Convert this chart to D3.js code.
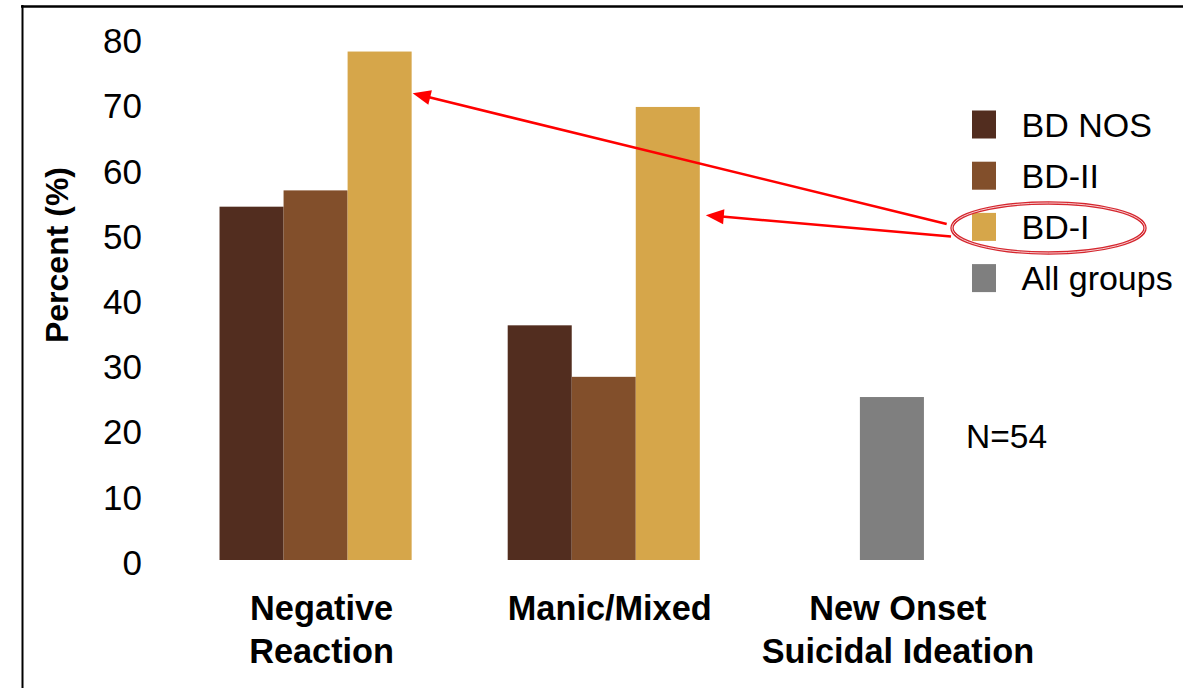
<!DOCTYPE html>
<html>
<head>
<meta charset="utf-8">
<script src="https://cdn.jsdelivr.net/npm/d3@7"></script>
<style>
  html, body { margin: 0; padding: 0; background: #fff; }
  svg { display: block; font-family: "Liberation Sans", Arial, sans-serif; }
</style>
</head>
<body>
<svg id="chart" width="1183" height="688"></svg>
<script>
// Episode outcome by bipolar subtype (percent of patients)
const categories = ["Negative Reaction", "Manic/Mixed", "New Onset Suicidal Ideation"];
const categoryLines = [["Negative", "Reaction"], ["Manic/Mixed"], ["New Onset", "Suicidal Ideation"]];
const series = ["BD NOS", "BD-II", "BD-I"];
const bdNos = [54.2, 36.0, null];
const bdII = [56.7, 28.1, null];
const bdI = [78.0, 69.5, null];
const allGroups = [null, null, 25.0];
const legendItems = ["BD NOS", "BD-II", "BD-I", "All groups"];
const yTicks = [0, 10, 20, 30, 40, 50, 60, 70, 80];
const sampleNote = "N=54";

const colors = { "BD NOS": "#522d1f", "BD-II": "#824f2b", "BD-I": "#d6a64a", "All groups": "#7f7f7f" };
const seriesValues = { "BD NOS": bdNos, "BD-II": bdII, "BD-I": bdI };

const svg = d3.select("#chart");

const x0 = d3.scaleBand().domain(categories).range([171.5, 1036]).paddingInner(1 / 3).paddingOuter(1 / 6);
const x1 = d3.scaleBand().domain(series).range([0, x0.bandwidth()]);
const y = d3.scaleLinear().domain([0, 80]).range([560, 38.5]);

// Frame
svg.append("line").attr("x1", 21).attr("x2", 1183).attr("y1", 6.5).attr("y2", 6.5)
  .attr("stroke", "#000").attr("stroke-width", 2.7);
svg.append("line").attr("x1", 22.5).attr("x2", 22.5).attr("y1", 5).attr("y2", 688)
  .attr("stroke", "#000").attr("stroke-width", 2);

// Y axis (labels only)
const yAxis = d3.axisLeft(y).tickValues(yTicks).tickSize(0).tickPadding(0);
const yg = svg.append("g").attr("transform", "translate(142,3)").call(yAxis);
yg.select(".domain").remove();
yg.selectAll("text").attr("font-size", 35).attr("fill", "#000")
  .attr("font-family", "'Liberation Sans', Arial, sans-serif");

svg.append("text")
  .attr("transform", `translate(68,255) rotate(-90)`)
  .attr("text-anchor", "middle")
  .attr("font-size", 32).attr("font-weight", "bold")
  .text("Percent (%)");

// Grouped bars
const groups = svg.append("g").selectAll("g").data(categories).join("g")
  .attr("transform", d => `translate(${x0(d)},0)`);

groups.each(function (cat, i) {
  const g = d3.select(this);
  series.forEach(s => {
    const v = seriesValues[s][i];
    if (v == null) return;
    g.append("rect")
      .attr("x", x1(s)).attr("width", x1.bandwidth())
      .attr("y", y(v)).attr("height", y(0) - y(v))
      .attr("fill", colors[s]);
  });
  if (allGroups[i] != null) {
    const v = allGroups[i];
    g.append("rect")
      .attr("x", x1("BD-II")).attr("width", x1.bandwidth())
      .attr("y", y(v)).attr("height", y(0) - y(v))
      .attr("fill", colors["All groups"]);
  }
});

// Category labels
categories.forEach((cat, i) => {
  const cx = x0(cat) + x0.bandwidth() / 2 + 6;
  const t = svg.append("text").attr("text-anchor", "middle")
    .attr("font-size", 34.3).attr("font-weight", "bold").attr("fill", "#000");
  categoryLines[i].forEach((line, k) => {
    t.append("tspan").attr("x", cx).attr("y", 620 + k * 43.3).text(line);
  });
});

// Legend
const legend = svg.append("g").attr("transform", "translate(972,0)");
legendItems.forEach((name, i) => {
  const cy = 124.5 + i * 51.2;
  legend.append("rect").attr("x", 0).attr("y", cy - 14).attr("width", 24).attr("height", 28)
    .attr("fill", colors[name]);
  legend.append("text").attr("x", 49.5).attr("y", cy + 12)
    .attr("font-size", 34).attr("fill", "#000").text(name);
});

// Sample size note
svg.append("text").attr("x", 966).attr("y", 448).attr("font-size", 33.5).attr("fill", "#000").text(sampleNote);

// Highlight ring around the BD-I legend entry
const ring = { cx: 1048.5, cy: 228, rx: 96.5, ry: 25 };
svg.append("ellipse").attr("cx", ring.cx).attr("cy", ring.cy).attr("rx", ring.rx).attr("ry", ring.ry)
  .attr("fill", "none").attr("stroke", "#d5262e").attr("stroke-width", 3.4);
svg.append("ellipse").attr("cx", ring.cx).attr("cy", ring.cy).attr("rx", ring.rx).attr("ry", ring.ry)
  .attr("fill", "none").attr("stroke", "#f7d0d2").attr("stroke-width", 1);

// Arrows from the ring to the BD-I bars
function arrow(x1p, y1p, x2p, y2p) {
  const ang = Math.atan2(y2p - y1p, x2p - x1p);
  const len = 18, half = 7.5;
  const bx = x2p - len * Math.cos(ang), by = y2p - len * Math.sin(ang);
  svg.append("line").attr("x1", x1p).attr("y1", y1p).attr("x2", bx + 2 * Math.cos(ang)).attr("y2", by + 2 * Math.sin(ang))
    .attr("stroke", "#ff0000").attr("stroke-width", 2.6);
  const px = -Math.sin(ang), py = Math.cos(ang);
  svg.append("path")
    .attr("d", `M${x2p},${y2p}L${bx + half * px},${by + half * py}L${bx - half * px},${by - half * py}Z`)
    .attr("fill", "#ff0000");
}
const barRight = cat => x0(cat) + x1("BD-I") + x1.bandwidth();
arrow(946.7, 224, barRight(categories[0]) + 1, y(71.6));
arrow(951, 236.5, barRight(categories[1]) + 6, y(52.9));
</script>
</body>
</html>
